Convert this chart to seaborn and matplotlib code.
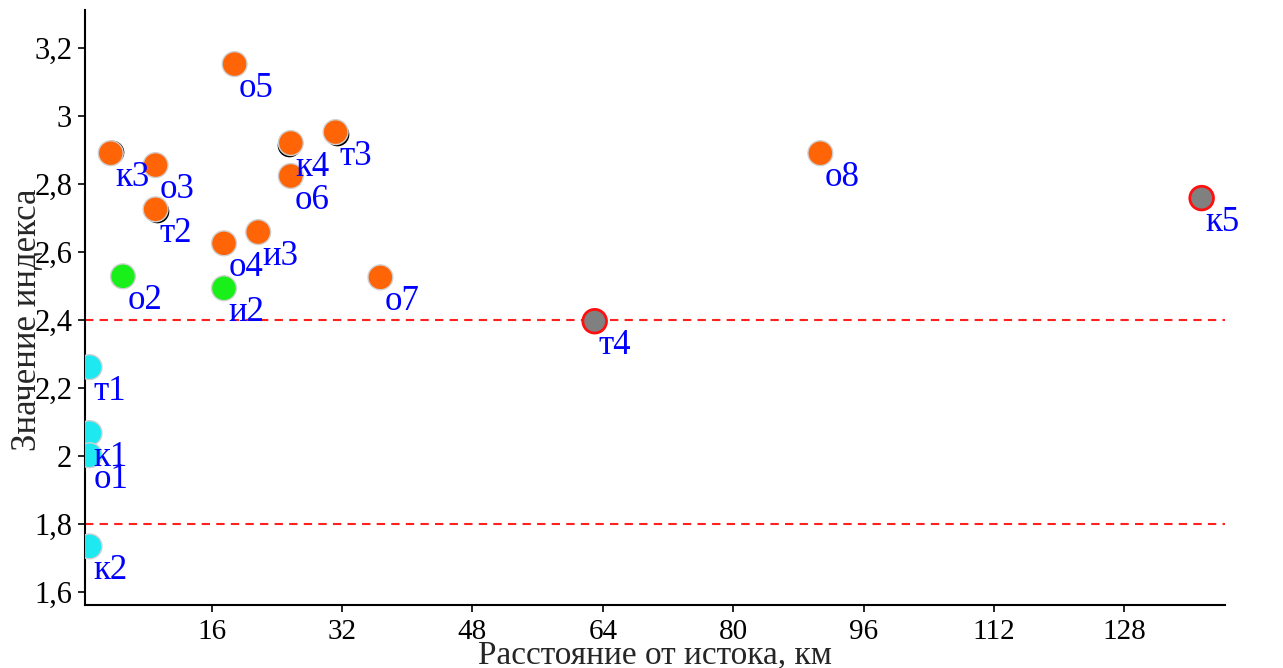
import matplotlib
matplotlib.use("Agg")
import matplotlib.pyplot as plt
import seaborn as sns
import pandas as pd
from matplotlib.ticker import FuncFormatter, FixedLocator

# Sampling sites: label, distance from source (km), index value, group
labels = ["т1", "к1", "о1", "к2", "к3", "о2", "о3", "т2", "о5", "о4",
          "и2", "и3", "к4", "о6", "т3", "о7", "т4", "о8", "к5"]
distance = [1.0, 1.0, 1.0, 1.0, 3.6, 5.1, 9.1, 9.1, 18.8, 17.5,
            17.5, 21.7, 25.7, 25.7, 31.2, 36.7, 63.0, 90.7, 137.5]
index_value = [2.262, 2.068, 2.003, 1.735, 2.891, 2.529, 2.856, 2.726, 3.153, 2.626,
               2.494, 2.659, 2.921, 2.824, 2.953, 2.526, 2.397, 2.891, 2.759]
group = ["low", "low", "low", "low", "high", "mid", "high", "high", "high", "high",
         "mid", "high", "high", "high", "high", "high", "far", "high", "far"]

# Duplicate measurements hidden under some markers
dup_distance = [3.75, 9.25, 25.45, 31.35]
dup_value = [2.895, 2.720, 2.915, 2.948]

thresholds = [2.4, 1.8]
x_ticks = [16, 32, 48, 64, 80, 96, 112, 128]
y_ticks = [1.6, 1.8, 2.0, 2.2, 2.4, 2.6, 2.8, 3.0, 3.2]

palette = {"low": "#1ee8f0", "mid": "#19f019", "high": "#ff6407", "far": "#808080"}

df = pd.DataFrame({"label": labels, "x": distance, "y": index_value, "group": group})
dups = pd.DataFrame({"x": dup_distance, "y": dup_value})

sns.set_style("white")
plt.rcParams["font.family"] = ["Liberation Serif", "DejaVu Serif"]

fig = plt.figure(figsize=(12.83, 6.68), dpi=100)
ax = fig.add_axes([0.066, 0.094, 0.889, 0.891])

for yv in thresholds:
    ax.axhline(yv, color="#ff2020", linestyle=(0, (4, 3)), linewidth=1.5, zorder=1)

sns.scatterplot(data=dups, x="x", y="y", color="black", s=290, linewidth=0,
                ax=ax, zorder=2, legend=False)
main = df[df["group"] != "far"]
far = df[df["group"] == "far"]
sns.scatterplot(data=main, x="x", y="y", hue="group", palette=palette, s=320,
                edgecolor="#d0d0d0", linewidth=1.0, ax=ax, zorder=3, legend=False)
sns.scatterplot(data=far, x="x", y="y", hue="group", palette=palette, s=290,
                edgecolor="#ff1010", linewidth=2.0, ax=ax, zorder=3, legend=False)

for _, r in df.iterrows():
    ax.annotate(r["label"], (r["x"], r["y"]), xytext=(3, -17.5), textcoords="offset points",
                ha="left", va="center", color="#0000ff", fontsize=25, zorder=4)

ax.set_xlim(0.4, 140.4)
ax.set_ylim(1.562, 3.312)
ax.xaxis.set_major_locator(FixedLocator(x_ticks))
ax.yaxis.set_major_locator(FixedLocator(y_ticks))
ax.yaxis.set_major_formatter(FuncFormatter(lambda v, p: f"{v:g}".replace(".", ",")))

for s in ["top", "right"]:
    ax.spines[s].set_visible(False)
for s in ["left", "bottom"]:
    ax.spines[s].set_color("black")
    ax.spines[s].set_linewidth(1.5)

ax.tick_params(axis="both", direction="out", length=5, width=1.2, color="black",
               labelcolor="black", left=True, bottom=True)
ax.tick_params(axis="y", labelsize=22, pad=4)
ax.tick_params(axis="x", labelsize=21, pad=5)

ax.set_xlabel("Расстояние от истока, км", fontsize=24)
ax.xaxis.set_label_coords(0.5, -0.058)
ax.set_ylabel("Значение индекса", fontsize=25)
ax.yaxis.set_label_coords(-0.036, 0.48)

fig.savefig("out.png", dpi=100)
